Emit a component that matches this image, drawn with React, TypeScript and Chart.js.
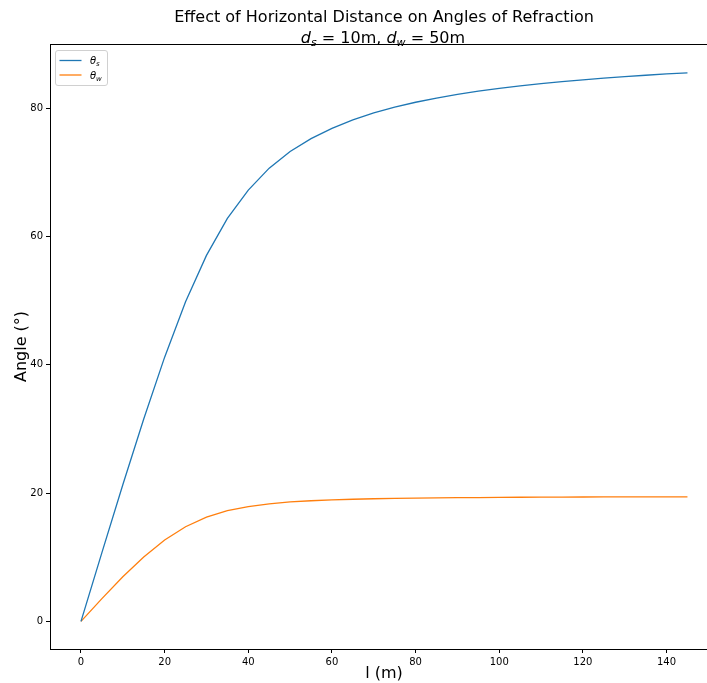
import React, { useEffect, useRef } from "react";
import { Chart, registerables } from "chart.js";

Chart.register(...registerables);

// ---- data ----
const distances = [0, 5, 10, 15, 20, 25, 30, 35, 40, 45, 50, 55, 60, 65, 70, 75, 80, 85, 90, 95, 100, 105, 110, 115, 120, 125, 130, 135, 140, 145];
const thetaS = [0, 10.72, 21.3, 31.56, 41.19, 49.81, 57.05, 62.83, 67.23, 70.65, 73.25, 75.25, 76.86, 78.17, 79.25, 80.15, 80.92, 81.58, 82.15, 82.65, 83.09, 83.48, 83.83, 84.14, 84.42, 84.68, 84.92, 85.13, 85.33, 85.51];
const thetaW = [0, 3.56, 6.96, 10.04, 12.68, 14.75, 16.25, 17.26, 17.9, 18.33, 18.62, 18.81, 18.94, 19.04, 19.12, 19.17, 19.22, 19.25, 19.28, 19.31, 19.33, 19.35, 19.36, 19.38, 19.39, 19.4, 19.41, 19.41, 19.42, 19.42];
const xTicks = [0, 20, 40, 60, 80, 100, 120, 140];
const yTicks = [0, 20, 40, 60, 80];
const seriesNames = ["θs", "θw"];
const seriesSymbol = "θ";
const seriesSubs = ["s", "w"];
const titleLine1 = "Effect of Horizontal Distance on Angles of Refraction";
const depthS = "10m";
const depthW = "50m";
const xLabel = "l (m)";
const yLabel = "Angle (°)";

const BLUE = "#1f77b4";
const ORANGE = "#ff7f0e";
const FONT = "'DejaVu Sans', sans-serif";

const overlayPlugin = {
  id: "overlay",
  afterDraw(chart: any) {
    const ctx = chart.ctx;
    const ca = chart.chartArea;
    ctx.save();
    // spines
    ctx.strokeStyle = "#000";
    ctx.lineWidth = 1;
    ctx.strokeRect(Math.round(ca.left) + 0.5, Math.round(ca.top) + 0.5, Math.round(ca.right - ca.left), Math.round(ca.bottom - ca.top));

    // subtitle line with subscripts
    const segs = [
      { t: "d", f: `italic 16px ${FONT}`, dy: 0 },
      { t: seriesSubs[0], f: `italic 11px ${FONT}`, dy: 3.5 },
      { t: " = " + depthS + ", ", f: `16px ${FONT}`, dy: 0 },
      { t: "d", f: `italic 16px ${FONT}`, dy: 0 },
      { t: seriesSubs[1], f: `italic 11px ${FONT}`, dy: 3.5 },
      { t: " = " + depthW, f: `16px ${FONT}`, dy: 0 },
    ];
    let total = 0;
    for (const s of segs) {
      ctx.font = s.f;
      total += ctx.measureText(s.t).width;
    }
    let x = 383 - total / 2;
    const base = 42.5;
    ctx.fillStyle = "#000";
    ctx.textBaseline = "alphabetic";
    ctx.textAlign = "left";
    for (const s of segs) {
      ctx.font = s.f;
      ctx.fillText(s.t, x, base + s.dy);
      x += ctx.measureText(s.t).width;
    }

    // legend
    const bx = ca.left + 5.5;
    const by = ca.top + 6.5;
    const bw = 52;
    const bh = 35;
    const r = 2.5;
    ctx.beginPath();
    ctx.moveTo(bx + r, by);
    ctx.lineTo(bx + bw - r, by);
    ctx.quadraticCurveTo(bx + bw, by, bx + bw, by + r);
    ctx.lineTo(bx + bw, by + bh - r);
    ctx.quadraticCurveTo(bx + bw, by + bh, bx + bw - r, by + bh);
    ctx.lineTo(bx + r, by + bh);
    ctx.quadraticCurveTo(bx, by + bh, bx, by + bh - r);
    ctx.lineTo(bx, by + r);
    ctx.quadraticCurveTo(bx, by, bx + r, by);
    ctx.closePath();
    ctx.fillStyle = "rgba(255,255,255,0.8)";
    ctx.fill();
    ctx.strokeStyle = "#d0d0d0";
    ctx.lineWidth = 1;
    ctx.stroke();
    const colors = [BLUE, ORANGE];
    for (let i = 0; i < 2; i++) {
      const ly = by + 10 + i * 14.5;
      ctx.strokeStyle = colors[i];
      ctx.lineWidth = 1.3;
      ctx.beginPath();
      ctx.moveTo(bx + 4, ly);
      ctx.lineTo(bx + 26, ly);
      ctx.stroke();
      ctx.fillStyle = "#000";
      ctx.font = `italic 10px ${FONT}`;
      const tx = bx + 34.5;
      ctx.fillText(seriesSymbol, tx, ly + 3.6);
      const w = ctx.measureText(seriesSymbol).width;
      ctx.font = `italic 7px ${FONT}`;
      ctx.fillText(seriesSubs[i], tx + w, ly + 5.8);
    }
    ctx.restore();
  },
};

export default function App() {
  const ref = useRef<HTMLCanvasElement | null>(null);
  useEffect(() => {
    if (!ref.current) return;
    const chart = new Chart(ref.current, {
      type: "line",
      data: {
        datasets: [
          {
            label: seriesNames[0],
            data: distances.map((d, i) => ({ x: d, y: thetaS[i] })),
            borderColor: BLUE,
            backgroundColor: BLUE,
            borderWidth: 1.3,
            pointRadius: 0,
            tension: 0,
          },
          {
            label: seriesNames[1],
            data: distances.map((d, i) => ({ x: d, y: thetaW[i] })),
            borderColor: ORANGE,
            backgroundColor: ORANGE,
            borderWidth: 1.3,
            pointRadius: 0,
            tension: 0,
          },
        ],
      },
      options: {
        responsive: false,
        animation: false,
        devicePixelRatio: 1,
        layout: { padding: { left: 0, right: 2, top: 0, bottom: 0 } },
        plugins: {
          legend: { display: false },
          tooltip: { enabled: false },
          title: {
            display: true,
            text: titleLine1,
            fullSize: false,
            color: "#000",
            font: { family: FONT, size: 16, weight: "normal" },
            padding: { top: 8, bottom: 16.8 },
          },
        },
        scales: {
          x: {
            type: "linear",
            min: -7.41,
            max: 152.3,
            afterBuildTicks: (s: any) => {
              s.ticks = xTicks.map((v) => ({ value: v }));
            },
            afterFit: (s: any) => {
              s.height = 34;
            },
            grid: { display: true, drawOnChartArea: false, drawTicks: true, tickLength: 4, color: "#000" },
            border: { display: true, color: "#000" },
            ticks: { color: "#000", font: { family: FONT, size: 10 }, padding: 3, maxRotation: 0 },
            title: { display: true, text: xLabel, color: "#000", font: { family: FONT, size: 16 }, padding: { top: 1.4, bottom: 0 } },
          },
          y: {
            type: "linear",
            min: -4.3,
            max: 90,
            afterBuildTicks: (s: any) => {
              s.ticks = yTicks.map((v) => ({ value: v }));
            },
            afterFit: (s: any) => {
              s.width = 50;
            },
            grid: { display: true, drawOnChartArea: false, drawTicks: true, tickLength: 4, color: "#000" },
            border: { display: true, color: "#000" },
            ticks: { color: "#000", font: { family: FONT, size: 10 }, padding: 3 },
            title: { display: true, text: yLabel, color: "#000", font: { family: FONT, size: 16 }, padding: { top: 12.4, bottom: 0 } },
          },
        },
      },
      plugins: [overlayPlugin],
    });
    return () => chart.destroy();
  }, []);
  return (
    <div style={{ position: "absolute", left: 0, top: 0, width: 707, height: 683, overflow: "hidden", background: "#fff" }}>
      <canvas ref={ref} width={720} height={683} style={{ display: "block", width: 720, height: 683 }} />
    </div>
  );
}
